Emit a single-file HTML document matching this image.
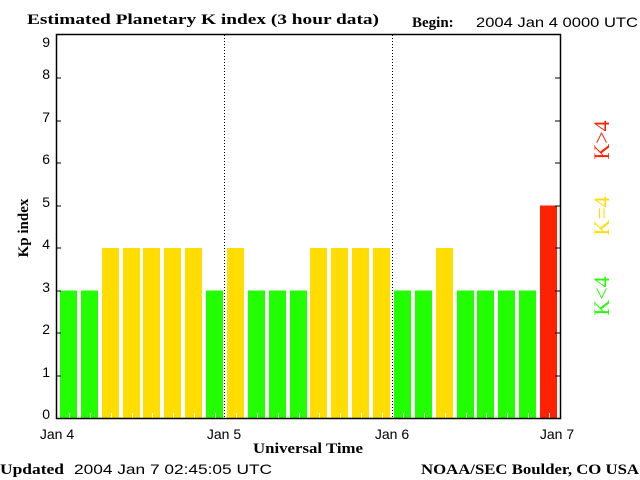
<!DOCTYPE html>
<html><head><style>body{margin:0;background:#fff}</style></head><body>
<svg width="640" height="480" xmlns="http://www.w3.org/2000/svg" style="display:block">
<rect width="640" height="480" fill="#fff"/>
<g font-family="Liberation Serif, serif" font-weight="bold" font-size="15" fill="#000">
<text x="27" y="24" textLength="352" lengthAdjust="spacingAndGlyphs">Estimated Planetary K index (3 hour data)</text>
<text x="412" y="27">Begin:</text>
<text x="253" y="453" textLength="110" lengthAdjust="spacingAndGlyphs">Universal Time</text>
<text x="0" y="474" textLength="64" lengthAdjust="spacingAndGlyphs">Updated</text>
<text x="421" y="474" textLength="218" lengthAdjust="spacingAndGlyphs">NOAA/SEC Boulder, CO USA</text>
<text transform="translate(28,228) rotate(-90)" text-anchor="middle">Kp index</text>
</g>
<g font-family="Liberation Sans, sans-serif" font-size="14" fill="#000">
<text x="476" y="27" textLength="162" lengthAdjust="spacingAndGlyphs">2004 Jan 4 0000 UTC</text>
<text x="74" y="474" textLength="198" lengthAdjust="spacingAndGlyphs">2004 Jan  7 02:45:05 UTC</text>
<g text-anchor="end">
<text x="50" y="419">0</text><text x="50" y="377">1</text><text x="50" y="334">2</text><text x="50" y="292">3</text><text x="50" y="249">4</text><text x="50" y="207">5</text><text x="50" y="164">6</text><text x="50" y="122">7</text><text x="50" y="79">8</text><text x="50" y="47">9</text>
</g>
<g text-anchor="middle">
<text x="57" y="439">Jan 4</text><text x="224" y="439">Jan 5</text><text x="392" y="439">Jan 6</text><text x="557" y="439">Jan 7</text>
</g>
</g>
<g fill="#22ff00">
<rect x="60" y="290.5" width="17" height="127.5"/><rect x="81" y="290.5" width="17" height="127.5"/>
<rect x="206" y="290.5" width="17" height="127.5"/><rect x="248" y="290.5" width="17" height="127.5"/>
<rect x="269" y="290.5" width="17" height="127.5"/><rect x="290" y="290.5" width="17" height="127.5"/>
<rect x="394" y="290.5" width="17" height="127.5"/><rect x="415" y="290.5" width="17" height="127.5"/>
<rect x="457" y="290.5" width="17" height="127.5"/><rect x="477" y="290.5" width="17" height="127.5"/>
<rect x="498" y="290.5" width="17" height="127.5"/><rect x="519" y="290.5" width="17" height="127.5"/>
</g>
<g fill="#ffdd00">
<rect x="102" y="248" width="17" height="170"/><rect x="123" y="248" width="17" height="170"/>
<rect x="143" y="248" width="17" height="170"/><rect x="164" y="248" width="17" height="170"/>
<rect x="185" y="248" width="17" height="170"/><rect x="227" y="248" width="17" height="170"/>
<rect x="310" y="248" width="17" height="170"/><rect x="331" y="248" width="17" height="170"/>
<rect x="352" y="248" width="17" height="170"/><rect x="373" y="248" width="17" height="170"/>
<rect x="436" y="248" width="17" height="170"/>
</g>
<rect x="540" y="205.5" width="17" height="212.5" fill="#ff2200"/>
<path stroke="#fff" d="M69.5 413V418M90.5 413V418M111.5 413V418M132.5 413V418M152.5 413V418M173.5 413V418M194.5 413V418M215.5 413V418M236.5 413V418M257.5 413V418M278.5 413V418M299.5 413V418M319.5 413V418M340.5 413V418M361.5 413V418M382.5 413V418M403.5 413V418M424.5 413V418M445.5 413V418M466.5 413V418M486.5 413V418M507.5 413V418M528.5 413V418M549.5 413V418"/>
<line x1="224.5" y1="35" x2="224.5" y2="418" stroke="#000" stroke-dasharray="1,2"/>
<line x1="392.5" y1="35" x2="392.5" y2="418" stroke="#000" stroke-dasharray="1,2"/>
<rect x="56.5" y="34.5" width="504" height="384" fill="none" stroke="#000" stroke-width="1.5"/>
<g stroke="#000">
<line x1="56" y1="376" x2="61" y2="376"/><line x1="56" y1="333" x2="61" y2="333"/><line x1="56" y1="291" x2="61" y2="291"/><line x1="56" y1="248" x2="61" y2="248"/><line x1="56" y1="206" x2="61" y2="206"/><line x1="56" y1="163" x2="61" y2="163"/><line x1="56" y1="121" x2="61" y2="121"/><line x1="56" y1="78" x2="61" y2="78"/>
<line x1="555" y1="376" x2="560" y2="376"/><line x1="555" y1="333" x2="560" y2="333"/><line x1="555" y1="291" x2="560" y2="291"/><line x1="555" y1="248" x2="560" y2="248"/><line x1="555" y1="206" x2="560" y2="206"/><line x1="555" y1="163" x2="560" y2="163"/><line x1="555" y1="121" x2="560" y2="121"/><line x1="555" y1="78" x2="560" y2="78"/>
</g>
<g font-family="Liberation Serif, serif" font-size="22">
<text transform="translate(609,296) rotate(-90)" text-anchor="middle" fill="#22ff00">K&lt;4</text>
<text transform="translate(609,216) rotate(-90)" text-anchor="middle" fill="#ffdd00">K=4</text>
<text transform="translate(609,140) rotate(-90)" text-anchor="middle" fill="#ff2200">K&gt;4</text>
</g>
</svg>
</body></html>
